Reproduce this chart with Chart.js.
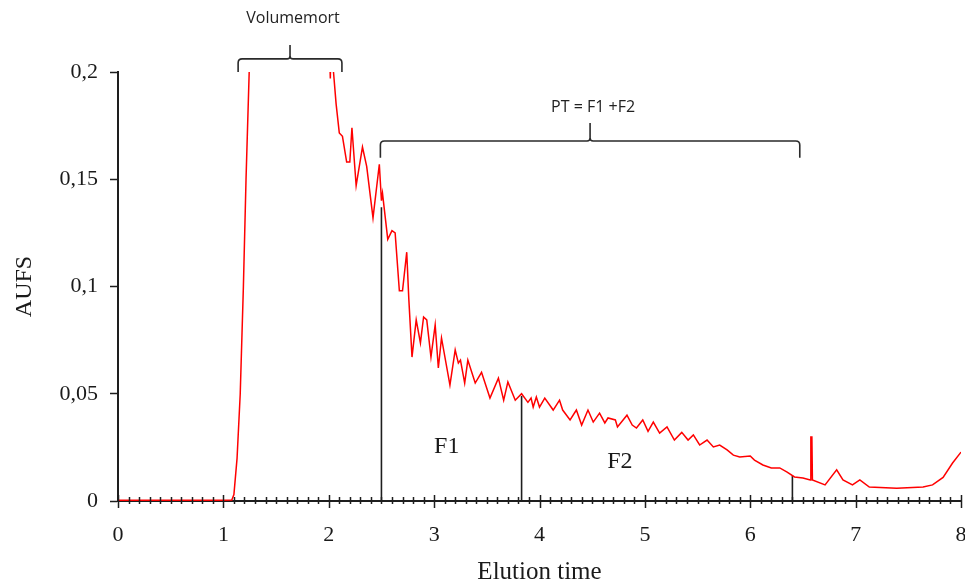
<!DOCTYPE html>
<html>
<head>
<meta charset="utf-8">
<script src="https://cdn.jsdelivr.net/npm/chart.js@4"></script>
<style>
  html, body { margin: 0; padding: 0; background: #fff; }
  #wrap { width: 965px; height: 587px; position: relative; }
</style>
</head>
<body>
<div id="wrap"><canvas id="c"></canvas></div>
<script>
// ---------- data ----------
const elutionTime = [
  0, 0.5, 1.0, 1.08, 1.10, 1.13, 1.16, 1.19, 1.215, 1.245, 1.27, 1.6, 1.99, 2.015, 2.025, 2.045,
  2.07, 2.10, 2.13, 2.17, 2.20, 2.22, 2.26, 2.32, 2.36, 2.42, 2.48, 2.50, 2.51, 2.56, 2.60, 2.63,
  2.67, 2.70, 2.74, 2.76, 2.79, 2.83, 2.87, 2.90, 2.93, 2.97, 3.01, 3.04, 3.07, 3.15, 3.20, 3.23,
  3.25, 3.29, 3.32, 3.39, 3.45, 3.53, 3.61, 3.66, 3.70, 3.77, 3.83, 3.89, 3.92, 3.94, 3.97, 4.00,
  4.05, 4.13, 4.19, 4.22, 4.29, 4.35, 4.40, 4.46, 4.51, 4.57, 4.62, 4.65, 4.72, 4.74, 4.83, 4.88,
  4.92, 4.98, 5.03, 5.08, 5.14, 5.21, 5.28, 5.35, 5.41, 5.46, 5.52, 5.59, 5.65, 5.71, 5.78, 5.84,
  5.90, 6.00, 6.04, 6.12, 6.20, 6.28, 6.35, 6.42, 6.50, 6.57, 6.575, 6.585, 6.59, 6.71, 6.82, 6.88,
  6.97, 7.04, 7.13, 7.39, 7.64, 7.73, 7.83, 7.92, 8.0
];
const aufs = [
  0.0003, 0.0003, 0.0004, 0.0005, 0.003, 0.02, 0.05, 0.10, 0.15, 0.20, 0.25, 0.30, 0.24, 0.197, 0.23, 0.20,
  0.185, 0.1716, 0.170, 0.158, 0.158, 0.174, 0.147, 0.165, 0.156, 0.132, 0.157, 0.140, 0.1435, 0.122, 0.126, 0.125,
  0.098, 0.098, 0.116, 0.094, 0.0671, 0.0844, 0.0737, 0.0858, 0.0844, 0.0671, 0.0821, 0.062, 0.076, 0.054, 0.0704, 0.0643,
  0.0657, 0.055, 0.0657, 0.055, 0.060, 0.048, 0.0573, 0.047, 0.0555, 0.047, 0.050, 0.046, 0.048, 0.0438, 0.0485, 0.0438,
  0.048, 0.0424, 0.047, 0.0424, 0.0378, 0.0424, 0.0354, 0.0424, 0.0368, 0.041, 0.0364, 0.0387, 0.0378, 0.0345, 0.040, 0.0354,
  0.034, 0.0378, 0.0325, 0.0368, 0.0317, 0.0345, 0.0284, 0.032, 0.0284, 0.0308, 0.0261, 0.0284, 0.0252, 0.0261, 0.0238, 0.0214,
  0.0205, 0.021, 0.0191, 0.0168, 0.0154, 0.0154, 0.0135, 0.0112, 0.0107, 0.0098, 0.0298, 0.0298, 0.0098, 0.0075, 0.0145, 0.0098,
  0.0075, 0.0098, 0.0065, 0.006, 0.0065, 0.0075, 0.011, 0.0177, 0.0228
];
// fraction cut lines: x position and curve height there
const cutTimes = [2.5, 3.83, 6.40];
const cutHeights = [0.137, 0.049, 0.0118];

const xTickValues = [0, 1, 2, 3, 4, 5, 6, 7, 8];
const xTickLabels = ['0', '1', '2', '3', '4', '5', '6', '7', '8'];
const yTickValues = [0, 0.05, 0.1, 0.15, 0.2];
const yTickLabels = ['0', '0,05', '0,1', '0,15', '0,2'];

const bracketLabels = ['Volumemort', 'PT = F1 +F2'];
const bracketFrom = [1.14, 2.49];
const bracketTo = [2.125, 6.47];
const bracketEnd = [0.2, 0.160];
const bracketBar = [0.2061, 0.1678];
const bracketTip = [0.2126, 0.1762];
const bracketText = [0.2252, 0.1837];

const fractionLabels = ['F1', 'F2'];
const fractionX = [3.12, 4.763];
const fractionY = [0.0252, 0.0182];

// ---------- chart ----------
const curve = elutionTime.map((t, i) => ({ x: t, y: aufs[i] }));
const cutSets = cutTimes.map((t, i) => ({
  data: [{ x: t, y: 0 }, { x: t, y: cutHeights[i] }],
  borderColor: '#1e1e1e', borderWidth: 1.6, pointRadius: 0, tension: 0
}));

const TEXT = '#1a1a1a';
const serif = "'Liberation Serif', 'DejaVu Serif', serif";

const decorPlugin = {
  id: 'decor',
  afterDraw(chart) {
    const ctx = chart.ctx, xs = chart.scales.x, ys = chart.scales.y;
    const y0 = ys.getPixelForValue(0);
    ctx.save();
    // x-axis crossing ticks (minor every 0.1, major every 1)
    ctx.strokeStyle = '#1e1e1e';
    ctx.lineWidth = 1.5;
    for (let k = 0; k <= 80; k++) {
      const v = k / 10;
      const px = Math.round(xs.getPixelForValue(v)) + 0.5;
      const major = k % 10 === 0;
      ctx.beginPath();
      ctx.moveTo(px, y0 - (major ? 6 : 4));
      ctx.lineTo(px, y0 + (major ? 7 : 3));
      ctx.stroke();
    }
    // brackets
    ctx.strokeStyle = '#2a2a2a';
    ctx.lineWidth = 1.6;
    ctx.fillStyle = '#222';
    ctx.font = "16px 'Open Sans', 'Liberation Sans', sans-serif";
    ctx.textAlign = 'center';
    ctx.textBaseline = 'middle';
    bracketLabels.forEach((lab, i) => {
      const a = xs.getPixelForValue(bracketFrom[i]);
      const b = xs.getPixelForValue(bracketTo[i]);
      const m = (a + b) / 2;
      const ye = ys.getPixelForValue(bracketEnd[i]);
      const yb = ys.getPixelForValue(bracketBar[i]);
      const yt = ys.getPixelForValue(bracketTip[i]);
      const r = 4;
      ctx.beginPath();
      ctx.moveTo(a, ye);
      ctx.lineTo(a, yb + r);
      ctx.quadraticCurveTo(a, yb, a + r, yb);
      ctx.lineTo(m - 3, yb);
      ctx.quadraticCurveTo(m, yb, m, yb - 3);
      ctx.lineTo(m, yt);
      ctx.moveTo(m, yb - 3);
      ctx.quadraticCurveTo(m, yb, m + 3, yb);
      ctx.lineTo(b - r, yb);
      ctx.quadraticCurveTo(b, yb, b, yb + r);
      ctx.lineTo(b, ye);
      ctx.stroke();
      ctx.fillText(lab, m + 3, ys.getPixelForValue(bracketText[i]));
    });
    // fraction labels
    ctx.font = '24px ' + serif;
    ctx.fillStyle = TEXT;
    fractionLabels.forEach((lab, i) => {
      ctx.fillText(lab, xs.getPixelForValue(fractionX[i]), ys.getPixelForValue(fractionY[i]));
    });
    ctx.restore();
  }
};

new Chart(document.getElementById('c'), {
  type: 'line',
  data: {
    datasets: [
      { data: curve, borderColor: '#ff0000', borderWidth: 1.5, pointRadius: 0, tension: 0 },
      ...cutSets
    ]
  },
  options: {
    responsive: true,
    maintainAspectRatio: false,
    animation: false,
    events: [],
    layout: { padding: { top: 72, right: 4, left: 0, bottom: 0 } },
    plugins: { legend: { display: false }, tooltip: { enabled: false } },
    scales: {
      x: {
        type: 'linear', min: 0, max: 8,
        afterBuildTicks(s) { s.ticks = xTickValues.map(v => ({ value: v })); },
        afterFit(s) { s.height = 86; s.paddingLeft = 0; s.paddingRight = 0; },
        grid: { display: false, drawTicks: false },
        border: { display: true, color: '#1e1e1e', width: 2 },
        ticks: {
          padding: 21, maxRotation: 0, autoSkip: false,
          color: TEXT, font: { family: serif, size: 22 },
          callback: (v, i) => xTickLabels[i]
        },
        title: {
          display: true, text: 'Elution time', color: TEXT,
          font: { family: serif, size: 25 }, padding: { top: 0, bottom: 0 }
        }
      },
      y: {
        type: 'linear', min: 0, max: 0.2,
        afterBuildTicks(s) { s.ticks = yTickValues.map(v => ({ value: v })); },
        afterFit(s) { s.width = 118; s.paddingTop = 0; s.paddingBottom = 0; },
        grid: { display: true, drawOnChartArea: false, drawTicks: true, tickLength: 8, tickColor: '#1e1e1e', tickWidth: 1.5 },
        border: { display: true, color: '#1e1e1e', width: 2 },
        ticks: {
          padding: 12, autoSkip: false,
          color: TEXT, font: { family: serif, size: 22 },
          callback: (v, i) => yTickLabels[i]
        },
        title: {
          display: true, text: 'AUFS', color: TEXT,
          font: { family: serif, size: 24 }, padding: { top: 10, bottom: 0 }
        }
      }
    }
  },
  plugins: [decorPlugin]
});
</script>
</body>
</html>
